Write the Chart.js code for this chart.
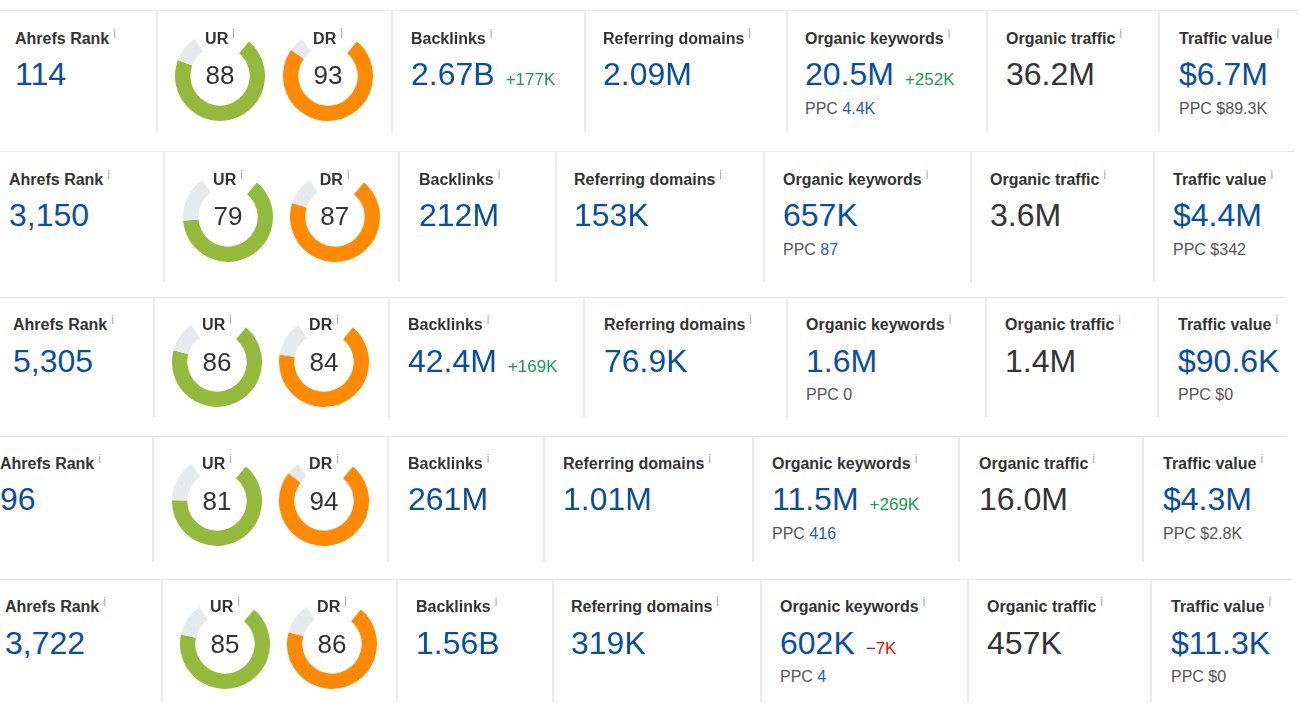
<!DOCTYPE html>
<html>
<head>
<meta charset="utf-8">
<script src="https://cdn.jsdelivr.net/npm/chart.js@4.4.0/dist/chart.umd.min.js"></script>
<style>
  html, body { margin: 0; padding: 0; background: #fff; }
  #board { position: relative; width: 1308px; height: 718px; overflow: hidden; font-family: "Liberation Sans", Arial, sans-serif; }
  .hline { position: absolute; height: 1px; background: #e4e4e4; left: 0; }
  .vline { position: absolute; width: 2px; background: #ebebeb; }
  .lbl { position: absolute; font-size: 16px; line-height: 16px; font-weight: bold; color: #333; white-space: nowrap; }
  .lbl .i { font-size: 12px; font-weight: normal; color: #a8a8a8; position: relative; top: -6px; margin-left: 4px; }
  .val { position: absolute; font-size: 32px; line-height: 32px; color: #0a4ea3; white-space: nowrap; }
  .val.dark { color: #333; }
  .delta { font-size: 17px; line-height: 1; margin-left: 11px; }
  .up { color: #1a9a4b; }
  .down { color: #d8100a; }
  .ppc { position: absolute; font-size: 16px; line-height: 16px; color: #555; white-space: nowrap; }
  .ppc .lnk { color: #2160b4; }
  .score { position: absolute; width: 90px; text-align: center; font-size: 26px; line-height: 26px; color: #333; }
  .ring { position: absolute; }
</style>
</head>
<body>
<div id="board"></div>
<script>
// values (one per row)
const ahrefsRank = ['114', '3,150', '5,305', '96', '3,722'];
const urScores = [88, 79, 86, 81, 85];
const drScores = [93, 87, 84, 94, 86];
const backlinks = ['2.67B', '212M', '42.4M', '261M', '1.56B'];
const backlinksDelta = ['+177K', '', '+169K', '', ''];
const refDomains = ['2.09M', '153K', '76.9K', '1.01M', '319K'];
const orgKeywords = ['20.5M', '657K', '1.6M', '11.5M', '602K'];
const orgKeywordsDelta = ['+252K', '', '', '+269K', '\u22127K'];
const keywordsPpc = ['4.4K', '87', '0', '416', '4'];
const orgTraffic = ['36.2M', '3.6M', '1.4M', '16.0M', '457K'];
const trafficValue = ['$6.7M', '$4.4M', '$90.6K', '$4.3M', '$11.3K'];
const trafficPpc = ['$89.3K', '$342', '$0', '$2.8K', '$0'];

// layout of each screenshot strip: top line, column dividers, text x, ring centres
const rows = [
    {y: 10.7, bottom: 132, right: 1298, div: [157, 392, 585, 787, 987, 1159], tx: [15, 411, 603, 805, 1006, 1179], ur: 220, dr: 328},
    {y: 151.7, bottom: 281.7, right: 1295, div: [164.3, 399.3, 555.7, 764, 970.7, 1154], tx: [9, 419, 574, 783, 990, 1173], ur: 228, dr: 334.7},
    {y: 297.3, bottom: 417.3, right: 1284, div: [154, 389.3, 584.3, 786.7, 985.7, 1158.3], tx: [13, 408, 604, 806, 1005, 1178], ur: 217, dr: 324},
    {y: 436, bottom: 561.7, right: 1287, div: [153.3, 388.3, 544.3, 752.7, 959.3, 1142.7], tx: [0, 408, 563, 772, 979, 1163], ur: 217, dr: 324},
    {y: 579.3, bottom: 701.7, right: 1293, div: [161.7, 396.7, 552.7, 761, 967.7, 1151], tx: [5, 416, 571, 780, 987, 1171], ur: 225, dr: 332}
];

const board = document.getElementById('board');

function el(cls, left, top, html) {
    let d = document.createElement('div');
    d.className = cls;
    d.style.left = left + 'px';
    d.style.top = top + 'px';
    d.innerHTML = html;
    board.appendChild(d);
    return d;
}

function label(x, base, text) {
    return el('lbl', x, base - 13.5, text + '<span class="i">i</span>');
}

function value(x, base, text, delta, dark) {
    let html = text;
    if (delta) {
        html += '<span class="delta ' + (delta[0] === '+' ? 'up' : 'down') + '">' + delta + '</span>';
    }
    return el('val' + (dark ? ' dark' : ''), x, base - 27.1, html);
}

function ppc(x, base, v, link) {
    return el('ppc', x, base - 13.5, 'PPC ' + (link ? '<span class="lnk">' + v + '</span>' : v));
}

function ring(cx, cy, score, color, name) {
    let c = document.createElement('canvas');
    c.width = 90;
    c.height = 90;
    c.className = 'ring';
    c.style.left = (cx - 45) + 'px';
    c.style.top = (cy - 40.9) + 'px';
    board.appendChild(c);
    new Chart(c, {
        type: 'doughnut',
        data: {
            labels: [name, ''],
            datasets: [{
                data: [score, 100 - score],
                backgroundColor: [color, '#e7eaec'],
                borderWidth: 0
            }]
        },
        options: {
            responsive: false,
            animation: false,
            events: [],
            rotation: 40,
            circumference: 285,
            cutout: '66%',
            plugins: {legend: {display: false}, tooltip: {enabled: false}}
        }
    });
    el('score', cx - 45, cy - 13.5, String(score));
    let l = label(cx - 45, cy - 31.5, name);
    l.style.width = '90px';
    l.style.textAlign = 'center';
}

for (let r = 0; r < rows.length; r++) {
    let row = rows[r];
    let h = el('hline', 0, row.y - 0.5, '');
    h.style.width = row.right + 'px';
    for (let k = 0; k < row.div.length; k++) {
        let v = el('vline', row.div[k] - 1, row.y, '');
        v.style.height = (row.bottom - row.y) + 'px';
    }
    let lb = row.y + 33.5, vb = row.y + 74.5, pb = row.y + 103.5, cy = row.y + 65;
    let tx = row.tx;

    label(tx[0], lb, 'Ahrefs Rank');
    value(tx[0], vb, ahrefsRank[r]);

    ring(row.ur, cy, urScores[r], '#93ba3a', 'UR');
    ring(row.dr, cy, drScores[r], '#ff8a00', 'DR');

    label(tx[1], lb, 'Backlinks');
    value(tx[1], vb, backlinks[r], backlinksDelta[r]);

    label(tx[2], lb, 'Referring domains');
    value(tx[2], vb, refDomains[r]);

    label(tx[3], lb, 'Organic keywords');
    value(tx[3], vb, orgKeywords[r], orgKeywordsDelta[r]);
    ppc(tx[3], pb, keywordsPpc[r], keywordsPpc[r] !== '0');

    label(tx[4], lb, 'Organic traffic');
    value(tx[4], vb, orgTraffic[r], '', true);

    label(tx[5], lb, 'Traffic value');
    value(tx[5], vb, trafficValue[r]);
    ppc(tx[5], pb, trafficPpc[r], false);
}
</script>
</body>
</html>
